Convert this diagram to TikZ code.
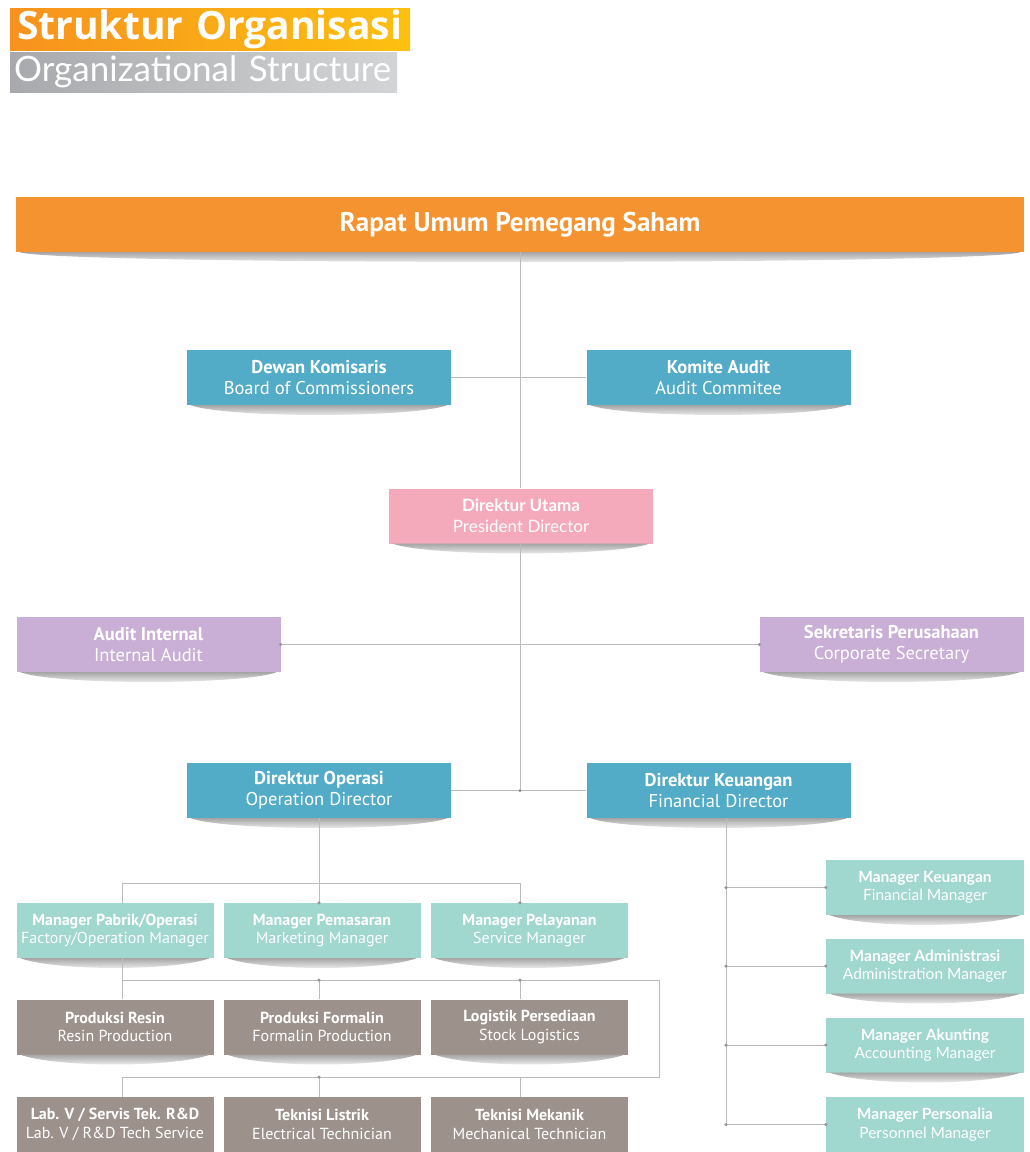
\documentclass[tikz,border=0pt]{standalone}
\usepackage{fontspec}
\setmainfont{Lato}
\newfontfamily\narrowfont{PT Sans}
\newfontfamily\headfont{Open Sans}
\usetikzlibrary{positioning,calc}

\definecolor{rupsorange}{HTML}{F59331}
\definecolor{titleorange}{HTML}{F7921E}
\definecolor{titleyellow}{HTML}{FDC010}
\definecolor{titlegrayA}{HTML}{A7A9AC}
\definecolor{titlegrayB}{HTML}{D2D4D5}
\definecolor{boardblue}{HTML}{52ABC7}
\definecolor{presipink}{HTML}{F4AABB}
\definecolor{auditlilac}{HTML}{C9AFD5}
\definecolor{managermint}{HTML}{A0D7CF}
\definecolor{stafftaupe}{HTML}{9D928B}
\definecolor{linkgray}{HTML}{BBBBBB}

% curved shadow under a box
\newcommand{\lowshade}[1]{%
  \shade[top color=black!35,bottom color=white]
    ($(#1.south west)+(4,0)$) .. controls ($(#1.south west)+(40,13)$) and ($(#1.south east)+(-40,13)$) .. ($(#1.south east)+(-4,0)$) -- cycle;}

\begin{document}
\begin{tikzpicture}[x=1pt,y=-1pt,
  card/.style={inner sep=0pt,align=center,text=white,minimum height=55pt},
  topcard/.style={card,minimum width=264pt,font=\narrowfont\fontsize{18.5}{21}\selectfont},
  lowcard/.style={card,minimum width=197pt,font=\narrowfont\fontsize{16}{18.5}\selectfont},
  sidecard/.style={card,minimum width=198pt,font=\fontsize{15.5}{18.5}\selectfont},
  link/.style={draw=linkgray,line width=0.9pt},
  joint/.style={circle,fill=linkgray!80!black,inner sep=0pt,minimum size=3.5pt}]
\useasboundingbox[fill=white] (0,0) rectangle (1030,1152);

% title
\node[anchor=north west,minimum width=400pt,minimum height=42pt,inner xsep=7pt,inner ysep=0pt,
  text width=386pt,left color=titleorange,right color=titleyellow,text=white,
  font=\headfont\bfseries\fontsize{39}{42}\selectfont] (judul) at (10,8) {\mbox{Struktur Organisasi}};
\node[anchor=north west,minimum width=387pt,minimum height=40pt,inner xsep=4pt,inner ysep=0pt,
  text width=379pt,left color=titlegrayA,right color=titlegrayB,text=white,
  font=\fontsize{35}{38}\selectfont] (subjudul) at (10,52) {\mbox{Organizational Structure}};

% top levels
\node[card,fill=rupsorange,minimum width=1008pt,font=\narrowfont\bfseries\fontsize{27}{30}\selectfont] (rups) at (520,224.5) {Rapat Umum Pemegang Saham};
\node[topcard,fill=boardblue] (dekom) at (319,377.5) {\textbf{Dewan Komisaris}\\Board of Commissioners};
\node[topcard,fill=boardblue] (komite) at (718.5,377.5) {\textbf{Komite Audit}\\Audit Commitee};
\node[topcard,fill=presipink,font=\fontsize{17}{21}\selectfont] (dirut) at (521,516) {\textbf{Direktur Utama}\\President Director};
\node[topcard,fill=auditlilac] (audin) at (148.5,644.5) {\textbf{Audit Internal}\\Internal Audit};
\node[topcard,fill=auditlilac] (sekper) at (891.5,644.5) {\textbf{Sekretaris Perusahaan}\\Corporate Secretary};
\node[topcard,fill=boardblue] (dirops) at (319,790.5) {\textbf{Direktur Operasi}\\Operation Director};
\node[topcard,fill=boardblue] (dirkeu) at (718.5,790.5) {\textbf{Direktur Keuangan}\\Financial Director};

% operation side
\node[lowcard,fill=managermint] (mpabrik) at (115,930.5) {\textbf{Manager Pabrik/Operasi}\\Factory/Operation Manager};
\node[lowcard,fill=managermint] (mpasar) at (322,930.5) {\textbf{Manager Pemasaran}\\Marketing Manager};
\node[lowcard,fill=managermint] (mlayan) at (529.5,930.5) {\textbf{Manager Pelayanan}\\Service Manager};
\node[lowcard,fill=stafftaupe] (resin) at (115,1027) {\textbf{Produksi Resin}\\Resin Production};
\node[lowcard,fill=stafftaupe] (formalin) at (322,1027) {\textbf{Produksi Formalin}\\Formalin Production};
\node[lowcard,fill=stafftaupe] (logistik) at (529.5,1027) {\textbf{Logistik Persediaan}\\Stock Logistics};
\node[lowcard,fill=stafftaupe] (lab) at (115,1124.5) {\textbf{Lab. V / Servis Tek. R\&D}\\Lab. V / R\&D Tech Service};
\node[lowcard,fill=stafftaupe] (listrik) at (322,1124.5) {\textbf{Teknisi Listrik}\\Electrical Technician};
\node[lowcard,fill=stafftaupe] (mekanik) at (529.5,1124.5) {\textbf{Teknisi Mekanik}\\Mechanical Technician};

% finance side
\node[sidecard,fill=managermint] (mkeu) at (925,887.5) {\textbf{Manager Keuangan}\\Financial Manager};
\node[sidecard,fill=managermint] (madm) at (925,966) {\textbf{Manager Administrasi}\\Administration Manager};
\node[sidecard,fill=managermint] (makt) at (925,1045) {\textbf{Manager Akunting}\\Accounting Manager};
\node[sidecard,fill=managermint] (mper) at (925,1124.5) {\textbf{Manager Personalia}\\Personnel Manager};

% shadows
\foreach \b in {rups,dekom,komite,dirut,audin,sekper,dirops,dirkeu,mpabrik,mpasar,mlayan,resin,formalin,logistik,mkeu,madm,makt}
  \lowshade{\b};

% junctions
\coordinate (dirjoin) at (520,790.5);
\coordinate (rowa) at (122,883);
\coordinate (rowb) at (520,883);
\coordinate (loopa) at (122,980);
\coordinate (loopb) at (659,980);
\coordinate (loopc) at (122,1077);
\coordinate (spine) at ($(dirkeu.south)+(7.5,0)$);

% connectors
\path[link] (rups.south -| dirjoin) edge (dirut.north -| dirjoin)
  (dirut.south -| dirjoin) edge (dirjoin)
  (dekom.east) edge (komite.west)
  (audin.east) edge (sekper.west)
  (dirops.east) edge (dirkeu.west)
  (dirops.south) edge (dirops.south |- mpasar.north);
\draw[link] (mpabrik.north -| rowa) |- (rowb) -- (rowb |- mlayan.north);
\draw[link] (mpabrik.south -| rowa) -- (resin.north -| rowa);
\draw[link] (loopa) -- (loopb) |- (loopc) -- (lab.north -| loopc);
\path[link] (loopa -| dirops.south) edge (formalin.north -| dirops.south)
  (loopa -| rowb) edge (logistik.north -| rowb)
  (loopc -| dirops.south) edge (listrik.north -| dirops.south)
  (loopc -| rowb) edge (mekanik.north -| rowb);
\draw[link] (spine) -- (spine |- mper.west);
\foreach \m in {mkeu,madm,makt,mper} {
  \draw[link] (spine |- \m.west) -- (\m.west);
  \node[joint] at (spine |- \m.west) {};
  \node[joint] at (\m.west) {};
}

% dots
\node[joint] at (dirjoin) {};
\node[joint] at (audin.east) {};
\node[joint] at (sekper.west) {};
\node[joint] at (dirops.south |- mpasar.north) {};
\node[joint] at (rowb |- mlayan.north) {};
\node[joint] at (loopa -| dirops.south) {};
\node[joint] at (loopa -| rowb) {};
\node[joint] at (loopc -| dirops.south) {};
\end{tikzpicture}
\end{document}
